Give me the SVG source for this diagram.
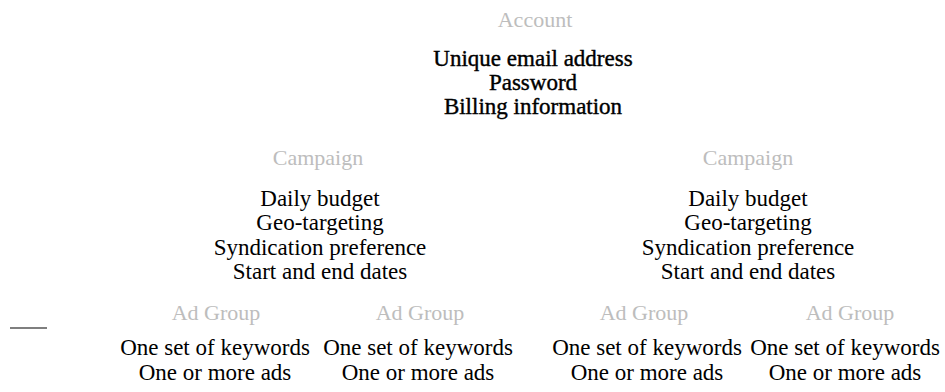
<svg xmlns="http://www.w3.org/2000/svg" width="945" height="392" viewBox="0 0 945 392">
<style>
.t{font-family:"Liberation Serif","Times New Roman",serif;font-size:22px;fill:#bdbdbd;text-anchor:middle}
.b{font-family:"Liberation Serif","Times New Roman",serif;font-size:23px;fill:#000;text-anchor:middle}
.h{stroke:#000;stroke-width:0.4}
</style>
<rect width="945" height="392" fill="#fff"/>
<g id="account">
<text class="t" x="535" y="27">Account</text>
<text class="b h" x="533" y="66">Unique email address</text>
<text class="b h" x="533" y="90">Password</text>
<text class="b h" x="533" y="114">Billing information</text>
</g>
<g id="campaign1">
<text class="t" x="318" y="165">Campaign</text>
<text class="b" x="320" y="206">Daily budget</text>
<text class="b" x="320" y="230">Geo-targeting</text>
<text class="b" x="320" y="255">Syndication preference</text>
<text class="b" x="320" y="279">Start and end dates</text>
</g>
<g id="campaign2">
<text class="t" x="748" y="165">Campaign</text>
<text class="b" x="748" y="206">Daily budget</text>
<text class="b" x="748" y="230">Geo-targeting</text>
<text class="b" x="748" y="255">Syndication preference</text>
<text class="b" x="748" y="279">Start and end dates</text>
</g>
<g id="adgroup1">
<text class="t" x="216" y="320">Ad Group</text>
<text class="b" x="215" y="355">One set of keywords</text>
<text class="b" x="215" y="380">One or more ads</text>
</g>
<g id="adgroup2">
<text class="t" x="420" y="320">Ad Group</text>
<text class="b" x="418" y="355">One set of keywords</text>
<text class="b" x="418" y="380">One or more ads</text>
</g>
<g id="adgroup3">
<text class="t" x="644" y="320">Ad Group</text>
<text class="b" x="647" y="355">One set of keywords</text>
<text class="b" x="647" y="380">One or more ads</text>
</g>
<g id="adgroup4">
<text class="t" x="850" y="320">Ad Group</text>
<text class="b" x="845" y="355">One set of keywords</text>
<text class="b" x="845" y="380">One or more ads</text>
</g>
<g id="connectors">
<line x1="10" y1="328" x2="47" y2="328" stroke="#000" stroke-width="1.2"/>
</g>
</svg>
